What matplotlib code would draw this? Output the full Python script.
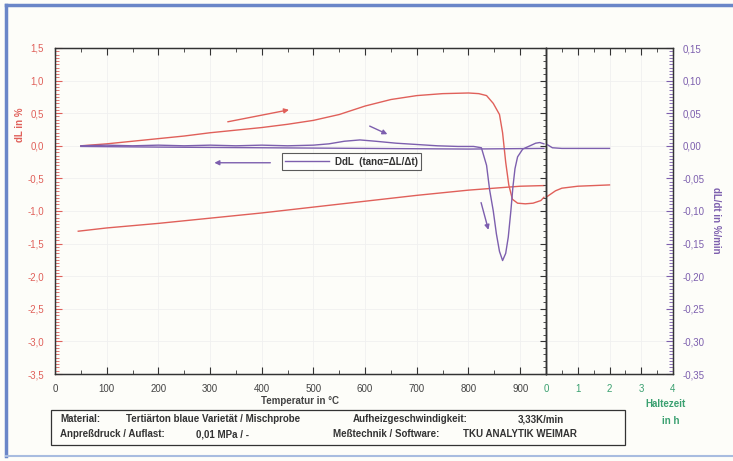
import matplotlib.pyplot as plt
from matplotlib.patches import Rectangle
from matplotlib.ticker import MultipleLocator, FuncFormatter

plt.rcParams['font.family'] = ['Liberation Sans', 'DejaVu Sans']

# heating: dL in % over temperature
heat_temp = [50, 100, 150, 200, 250, 300, 350, 400, 450, 500, 550, 600, 650, 700, 750,
             800, 820, 835, 848, 860, 866, 872, 878, 885, 895, 910, 925, 940, 946]
heat_dl = [0.0, 0.03, 0.07, 0.11, 0.15, 0.20, 0.24, 0.28, 0.33, 0.39, 0.48, 0.61, 0.71,
           0.77, 0.80, 0.81, 0.80, 0.77, 0.65, 0.48, 0.20, -0.25, -0.60, -0.82, -0.88,
           -0.89, -0.88, -0.84, -0.79]

# holding time: dL in %
hold_time = [0.0, 0.15, 0.3, 0.5, 1.0, 1.5, 2.0]
hold_dl = [-0.79, -0.74, -0.69, -0.65, -0.62, -0.61, -0.60]

# cooling: dL in %
cool_temp = [946, 900, 850, 800, 700, 600, 500, 400, 300, 200, 100, 45]
cool_dl = [-0.61, -0.62, -0.65, -0.68, -0.76, -0.85, -0.94, -1.03, -1.11, -1.19, -1.26, -1.31]

# DdL (dL/dt in %/min)
ddl_heat_temp = [50, 100, 150, 200, 250, 300, 350, 400, 450, 500, 530, 560, 590, 620, 660,
                 700, 740, 780, 810, 825, 835, 841, 848, 854, 860, 866, 872, 877, 882,
                 886, 890, 895, 905, 919, 930, 938, 946]
ddl_heat = [0.0, 0.001, 0.0, 0.001, 0.0, 0.001, 0.0, 0.001, 0.0, 0.001, 0.003, 0.007, 0.009,
            0.007, 0.004, 0.002, 0.0, -0.001, -0.001, -0.003, -0.03, -0.068, -0.10, -0.135,
            -0.162, -0.176, -0.165, -0.14, -0.10, -0.063, -0.035, -0.017, -0.005, 0.0,
            0.004, 0.005, 0.003]
ddl_hold_time = [0.0, 0.1, 0.2, 0.5, 1.0, 2.0]
ddl_hold = [0.003, 0.0, -0.003, -0.004, -0.004, -0.004]
ddl_cool_temp = [946, 800, 600, 400, 200, 50]
ddl_cool = [-0.004, -0.005, -0.004, -0.003, -0.002, -0.001]

RED = '#e0605a'
PURPLE = '#7d5fae'
GREEN = '#3aa070'
GREY = '#444444'

W, H = 733, 461
fig = plt.figure(figsize=(W / 100, H / 100), dpi=100)
fig.patch.set_facecolor('#fdfdf9')

# outer blue frame
fig.add_artist(plt.Line2D([6 / W, 6 / W], [1 - 5 / H, 1 - 456 / H], color='#6a86c8', lw=2.5))
fig.add_artist(plt.Line2D([6 / W, 1], [1 - 5 / H, 1 - 5 / H], color='#6a86c8', lw=2.5))
fig.add_artist(plt.Line2D([6 / W, 1], [1 - 456 / H, 1 - 456 / H], color='#a8bce0', lw=1.5))

bottom = (H - 374) / H
height = 326 / H
ax1 = fig.add_axes([55 / W, bottom, 491 / W, height])
ax2 = fig.add_axes([546 / W, bottom, 127 / W, height])
ax1t = ax1.twinx()
ax2t = ax2.twinx()

comma = lambda fmt: FuncFormatter(lambda v, p: (fmt % v).replace('.', ','))

for ax in (ax1, ax2, ax1t, ax2t):
    ax.patch.set_alpha(0)
    for s in ax.spines.values():
        s.set_linewidth(0.9)
        s.set_color('#333333')

# temperature part
ax1.plot(heat_temp, heat_dl, color=RED, lw=1.0)
ax1.plot(cool_temp, cool_dl, color=RED, lw=1.0)
ax1.set_xlim(0, 950)
ax1.set_ylim(-3.5, 1.5)
ax1.xaxis.set_major_locator(MultipleLocator(100))
ax1.xaxis.set_minor_locator(MultipleLocator(50))
ax1.yaxis.set_major_locator(MultipleLocator(0.5))
ax1.yaxis.set_minor_locator(MultipleLocator(0.05))
ax1.yaxis.set_major_formatter(comma('%.1f'))
ax1.tick_params(axis='x', which='both', direction='in', top=True, colors='#333333',
                labelsize=7, labelcolor=GREY, pad=7)
ax1.tick_params(axis='x', which='major', length=5)
ax1.tick_params(axis='x', which='minor', length=3)
ax1.tick_params(axis='y', which='both', direction='in', left=True, right=False,
                color=RED, labelsize=7, labelcolor=RED, pad=8)
ax1.tick_params(axis='y', which='major', length=5)
ax1.tick_params(axis='y', which='minor', length=3)
ax1.grid(True, which='major', color='#f0f0f0', lw=0.6)
ax1.set_axisbelow(True)

ax1t.plot(ddl_heat_temp, ddl_heat, color=PURPLE, lw=1.0)
ax1t.plot(ddl_cool_temp, ddl_cool, color=PURPLE, lw=1.0, label='DdL  (tan\u03b1=\u0394L/\u0394t)')
ax1t.set_ylim(-0.35, 0.15)
ax1t.yaxis.set_major_locator(MultipleLocator(0.05))
ax1t.yaxis.set_minor_locator(MultipleLocator(0.01))
ax1t.tick_params(axis='y', which='both', direction='in', color='#333333', labelright=False)
ax1t.tick_params(axis='y', which='major', length=4)
ax1t.tick_params(axis='y', which='minor', length=2)

# holding part
ax2.plot(hold_time, hold_dl, color=RED, lw=1.0)
ax2.set_xlim(0, 4)
ax2.set_ylim(-3.5, 1.5)
ax2.xaxis.set_major_locator(MultipleLocator(1))
ax2.xaxis.set_minor_locator(MultipleLocator(0.5))
ax2.tick_params(axis='x', which='both', direction='in', top=True, colors='#333333',
                labelsize=7, labelcolor=GREEN, pad=7)
ax2.tick_params(axis='x', which='major', length=5)
ax2.tick_params(axis='x', which='minor', length=3)
ax2.tick_params(axis='y', which='both', left=False, labelleft=False)
ax2.grid(True, which='major', color='#f0f0f0', lw=0.6)

ax2t.plot(ddl_hold_time, ddl_hold, color=PURPLE, lw=1.0)
ax2t.set_ylim(-0.35, 0.15)
ax2t.yaxis.set_major_locator(MultipleLocator(0.05))
ax2t.yaxis.set_minor_locator(MultipleLocator(0.005))
ax2t.yaxis.set_major_formatter(comma('%.2f'))
ax2t.tick_params(axis='y', which='both', direction='in', color=PURPLE,
                 labelsize=7, labelcolor=PURPLE, pad=7)
ax2t.tick_params(axis='y', which='major', length=5)
ax2t.tick_params(axis='y', which='minor', length=3)

# arrows
ax1.annotate('', xy=(458, 0.56), xytext=(329, 0.36),
             arrowprops=dict(arrowstyle='-|>', color=RED, lw=1.0, mutation_scale=7))
ax1.annotate('', xy=(648, 0.16), xytext=(604, 0.32),
             arrowprops=dict(arrowstyle='-|>', color=PURPLE, lw=1.0, mutation_scale=7))
ax1.annotate('', xy=(303, -0.26), xytext=(422, -0.26),
             arrowprops=dict(arrowstyle='-|>', color=PURPLE, lw=1.0, mutation_scale=7))
ax1.annotate('', xy=(840, -1.33), xytext=(823, -0.83),
             arrowprops=dict(arrowstyle='-|>', color=PURPLE, lw=1.0, mutation_scale=7))

leg = ax1t.legend(loc='upper left', bbox_to_anchor=(0.462, 0.677), fontsize=7,
                  frameon=True, fancybox=False, handlelength=4.5, borderpad=0.35,
                  handletextpad=0.6, borderaxespad=0)
leg.get_frame().set_edgecolor('#333333')
leg.get_frame().set_linewidth(0.8)
for t in leg.get_texts():
    t.set_fontweight('bold')
    t.set_color('#333333')

# axis labels
fig.text(20 / W, 1 - 125 / H, 'dL in %', rotation=90, color=RED, fontsize=7,
         ha='center', va='center', fontweight='bold')
fig.text(716 / W, 1 - 220 / H, 'dL/dt in %/min', rotation=270, color=PURPLE, fontsize=7,
         ha='center', va='center', fontweight='bold')
fig.text(300 / W, 1 - 401 / H, 'Temperatur in \u00b0C', color=GREY, fontsize=7,
         ha='center', va='center', fontweight='bold')
fig.text(666 / W, 1 - 404 / H, 'Haltezeit', color=GREEN, fontsize=7,
         ha='center', va='center', fontweight='bold')
fig.text(671 / W, 1 - 421 / H, 'in h', color=GREEN, fontsize=7,
         ha='center', va='center', fontweight='bold')

# info box
fig.add_artist(Rectangle((51 / W, 1 - 445 / H), 574 / W, 35 / H, transform=fig.transFigure,
                         fill=False, edgecolor='#333333', lw=0.9))
info = [
    (60, 419, 'Material:'),
    (126, 419, 'Terti\u00e4rton blaue Variet\u00e4t / Mischprobe'),
    (353, 419, 'Aufheizgeschwindigkeit:'),
    (518, 419, '3,33K/min'),
    (60, 434, 'Anpre\u00dfdruck / Auflast:'),
    (196, 434, '0,01 MPa / -'),
    (333, 434, 'Me\u00dftechnik / Software:'),
    (463, 434, 'TKU ANALYTIK WEIMAR'),
]
for x, y, s in info:
    fig.text(x / W, 1 - y / H, s, fontsize=7, color='#333333', fontweight='bold',
             ha='left', va='center')

fig.savefig('out.png', dpi=100, facecolor=fig.get_facecolor())
